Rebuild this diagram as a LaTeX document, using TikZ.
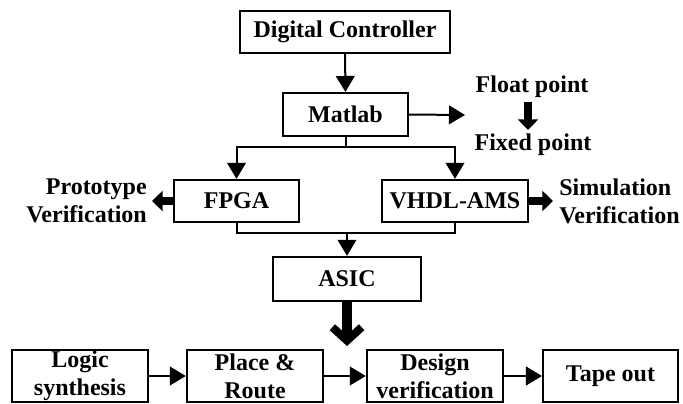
\documentclass[tikz,border=0pt]{standalone}
\usepackage{fontspec}
\setmainfont{Liberation Serif}
\usetikzlibrary{arrows.meta}
\tikzset{
	box/.style={draw,line width=1.8pt,rectangle,inner sep=0pt,align=center,font=\bfseries\fontsize{18}{21}\selectfont},
	lbl/.style={inner sep=0pt,font=\bfseries\fontsize{18}{21}\selectfont},
	conn/.style={line width=1.5pt,-{Triangle[length=12pt,width=14pt]}},
	fat/.style={line width=6pt,-{Triangle[length=8pt,width=15pt]}},
	barb/.style={line width=7pt,-{Straight Barb[length=10pt,width=22pt,line width=6pt]}}
}
\begin{document}
\begin{tikzpicture}[x=0.75pt,y=0.75pt,yscale=-1]
			\path[use as bounding box] (0,0) rectangle (683,404);
			
			%Shape: Rectangle [id:dc] 
			\node[box,minimum width=157.5pt,minimum height=31.5pt] (dc) at (345,32) {Digital Controller};
			%Shape: Rectangle [id:matlab] 
			\node[box,minimum width=93.75pt,minimum height=32pt] (matlab) at (345.5,114.5) {Matlab};
			%Shape: Rectangle [id:fpga] 
			\node[box,minimum width=93.75pt,minimum height=31.5pt] (fpga) at (236.5,201) {FPGA};
			%Shape: Rectangle [id:vhdl] 
			\node[box,minimum width=109.5pt,minimum height=31.5pt] (vhdl) at (455,201) {VHDL-AMS};
			%Shape: Rectangle [id:asic] 
			\node[box,minimum width=111pt,minimum height=33pt] (asic) at (347,279) {ASIC};
			%Shape: Rectangle [id:logic] 
			\node[box,minimum width=102pt,minimum height=39pt] (logic) at (80,376) {Logic\\synthesis};
			%Shape: Rectangle [id:place] 
			\node[box,minimum width=102pt,minimum height=39pt] (place) at (255,376) {Place \&\\Route};
			%Shape: Rectangle [id:design] 
			\node[box,minimum width=102pt,minimum height=39pt] (design) at (435,376) {Design\\verification};
			%Shape: Rectangle [id:tape] 
			\node[box,minimum width=101pt,minimum height=39pt] (tape) at (610.5,376) {Tape out};
			
			% Text Node
			\node[lbl] (float) at (532,87) {Float point};
			% Text Node
			\node[lbl] (fixed) at (533,145) {Fixed point};
			% Text Node
			\node[lbl,anchor=east,align=right] (proto) at (147,201) {Prototype\\Verification};
			% Text Node
			\node[lbl,anchor=west,align=left] (simu) at (559,201) {Simulation\\Verification};
			
			%Coordinates
			\coordinate (mout) at (465,115);
			\coordinate (split) at (345.5,147);
			\coordinate (merge) at (347,233);
			\coordinate (ptip) at (152,201);
			\coordinate (stip) at (553,201);
			\coordinate (ftop) at (528,102);
			\coordinate (fbot) at (528,130);
			\coordinate (atip) at (347,346);
			
			%Straight Lines
			\draw[conn] (dc.south) -- (matlab.north);
			\draw[conn] (matlab.east) -- (mout);
			\draw[line width=1.5pt] (matlab.south) -- (split);
			\draw[conn] (split) -| (fpga.north);
			\draw[conn] (split) -| (vhdl.north);
			\draw[line width=1.5pt] (fpga.south) |- (merge) -| (vhdl.south);
			\draw[conn] (merge) -- (asic.north);
			\draw[conn] (logic.east) -- (place.west);
			\draw[conn] (place.east) -- (design.west);
			\draw[conn] (design.east) -- (tape.west);
			
			%Thick Arrows
			\draw[fat] (fpga.west) -- (ptip);
			\draw[fat] (vhdl.east) -- (stip);
			\draw[fat] (ftop) -- (fbot);
			\draw[barb] (asic.south) -- (atip);
			
\end{tikzpicture}
\end{document}
